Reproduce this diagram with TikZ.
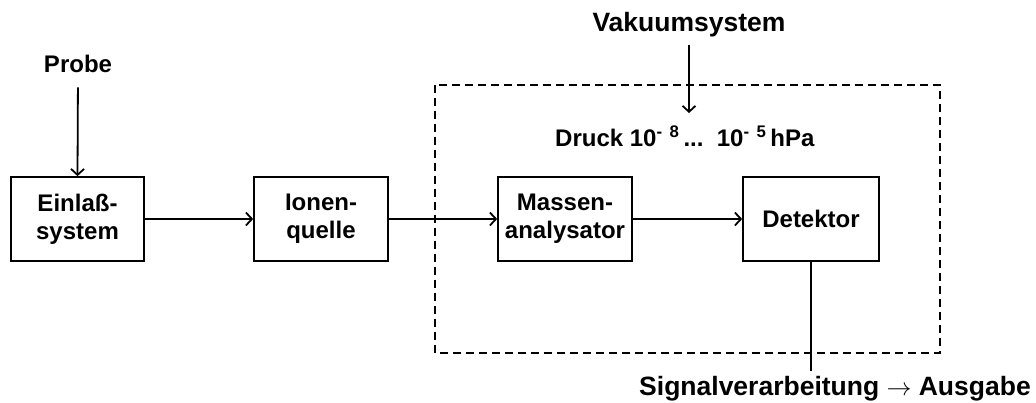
\documentclass[tikz,border=0pt]{standalone}
\usepackage{fontspec}
\setmainfont{Liberation Sans}
\usetikzlibrary{arrows.meta}
\begin{document}
\begin{tikzpicture}[x=1pt,y=-1pt,
  every node/.style={inner sep=0pt,font=\bfseries\fontsize{24}{28}\selectfont},
  stage/.style={draw,line width=1.7pt,align=center,minimum height=84pt},
  bigtxt/.style={font=\bfseries\fontsize{26.5}{30}\selectfont},
  arr/.style={line width=1.8pt,-{Straight Barb[length=6pt,width=13pt,line width=1.8pt]}},
  plain/.style={line width=1.8pt},
  vacuum/.style={line width=1.4pt,dash pattern=on 8pt off 5pt}]
\useasboundingbox (0,0) rectangle (1036,403);

% vacuum enclosure
\draw[vacuum] (435,85) rectangle (940,353);

% processing stages
\node[stage,minimum width=133pt] (ein) at (77.5,219) {Einlaß-\\system};
\node[stage,minimum width=134pt] (ion) at (321,219) {Ionen-\\quelle};
\node[stage,minimum width=134pt] (mas) at (565,219) {Massen-\\analysator};
\node[stage,minimum width=136pt] (det) at (811,219) {Detektor};

% labels
\node[anchor=base] (probe) at (78,73) {Probe};
\node[bigtxt,anchor=base] (vak) at (689,32) {Vakuumsystem};
\node[anchor=base west] (druck) at (555,147)
  {Druck 10\textsuperscript{-\ \,8}\,...\ \ 10\textsuperscript{-\ \,5}\,hPa};
\node[bigtxt,anchor=base] (sig) at (835,395)
  {Signalverarbeitung $\rightarrow$ Ausgabe};

% connectors
\draw[arr,shorten <=14pt] (probe.south) -- (ein.north);
\draw[arr] (ein.east) -- (ion.west);
\draw[arr] (ion.east) -- (mas.west);
\draw[arr] (mas.east) -- (det.west);
\draw[arr,shorten <=7pt,shorten >=13pt] (vak.south) -- (vak.south |- druck.north);
\draw[plain,shorten >=5pt] (det.south) -- (det.south |- sig.north);
\end{tikzpicture}
\end{document}
